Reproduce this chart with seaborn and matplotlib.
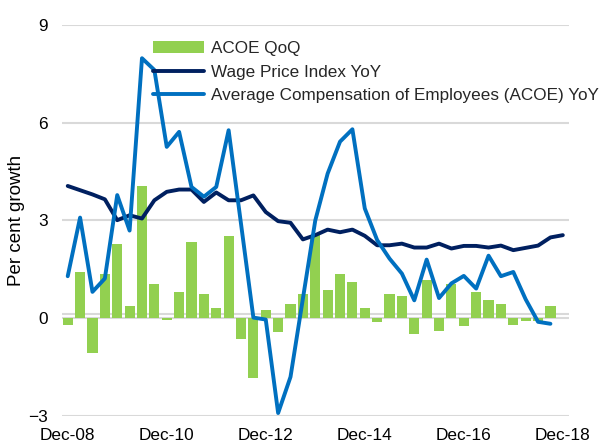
import numpy as np
import pandas as pd
import seaborn as sns
import matplotlib
matplotlib.use("Agg")
import matplotlib.pyplot as plt
from matplotlib.patches import Patch
from matplotlib.lines import Line2D

# Quarterly data, Dec-08 .. Dec-18
quarters = [str(p) for p in pd.period_range("2008Q4", "2018Q4", freq="Q")]

acoe_qoq = [-0.2, 1.42, -1.08, 1.37, 2.27, 0.37, 4.05, 1.04, -0.05, 0.8,
            2.33, 0.74, 0.32, 2.53, -0.65, -1.82, 0.25, -0.42, 0.43, 0.74,
            2.55, 0.86, 1.35, 1.1, 0.31, -0.13, 0.74, 0.68, -0.47, 1.17,
            -0.4, 1.04, -0.24, 0.8, 0.55, 0.43, -0.2, -0.08, -0.1, 0.37, np.nan]

wpi_yoy = [4.06, 3.93, 3.8, 3.65, 3.01, 3.16, 3.06, 3.62, 3.88, 3.95,
           3.95, 3.57, 3.86, 3.62, 3.62, 3.77, 3.26, 2.98, 2.93, 2.42,
           2.55, 2.72, 2.64, 2.72, 2.53, 2.24, 2.24, 2.29, 2.17, 2.17,
           2.29, 2.14, 2.22, 2.22, 2.17, 2.23, 2.09, 2.16, 2.23, 2.48, 2.55]

acoe_yoy = [1.29, 3.09, 0.81, 1.22, 3.78, 2.69, 7.98, 7.62, 5.26, 5.72,
            4.03, 3.73, 4.03, 5.77, 2.9, 0.02, -0.04, -2.91, -1.8, 0.6,
            3.0, 4.44, 5.42, 5.8, 3.37, 2.4, 1.83, 1.37, 0.55, 1.8,
            0.62, 1.07, 1.3, 0.91, 1.92, 1.29, 1.42, 0.58, -0.11, -0.17, np.nan]

xtick_labels = ["Dec-08", "Dec-10", "Dec-12", "Dec-14", "Dec-16", "Dec-18"]
ytick_values = [-3, 0, 3, 6, 9]

df = pd.DataFrame({
    "quarter": quarters,
    "pos": np.arange(len(quarters)),
    "qoq": acoe_qoq,
    "wpi": wpi_yoy,
    "acoe": acoe_yoy,
})

GREEN = "#92D050"
NAVY = "#002060"
BLUE = "#0070C0"
GRID = "#D9D9D9"

sns.set_theme(style="white")
plt.rcParams["font.family"] = ["Liberation Sans", "DejaVu Sans"]

fig, ax = plt.subplots(figsize=(6.05, 4.45), dpi=100)
fig.subplots_adjust(left=0.1017, right=0.9405, top=0.9438, bottom=0.0652)

# gridlines
for v in ytick_values:
    ax.axhline(v, color=GRID, lw=1.5, zorder=0)
ax.axhline(0.13, color=GRID, lw=1.5, zorder=0)

sns.barplot(data=df, x="quarter", y="qoq", order=quarters, color=GREEN,
            saturation=1, width=0.82, errorbar=None, linewidth=0,
            ax=ax, zorder=2)
sns.lineplot(data=df, x="pos", y="wpi", color=NAVY, lw=2.8, ax=ax, zorder=3)
sns.lineplot(data=df, x="pos", y="acoe", color=BLUE, lw=2.8, ax=ax, zorder=4)

ax.set_xlim(-0.5, len(quarters) - 0.5)
ax.set_ylim(-3, 9)
ax.set_yticks(ytick_values)
ax.set_xticks(np.arange(0, len(quarters), 8))
ax.set_xticklabels(xtick_labels)
ax.tick_params(axis="both", length=0, labelsize=12.4, colors="black")
ax.tick_params(axis="y", pad=10)
ax.tick_params(axis="x", pad=9)
ax.set_xlabel("")
ax.set_ylabel("Per cent growth", fontsize=13.5, color="black")
ax.yaxis.set_label_coords(-0.072, 0.5)
for s in ax.spines.values():
    s.set_visible(False)

handles = [
    Patch(facecolor=GREEN, edgecolor="none"),
    Line2D([], [], color=NAVY, lw=2.8),
    Line2D([], [], color=BLUE, lw=2.8),
]
labels = ["ACOE QoQ", "Wage Price Index YoY",
          "Average Compensation of Employees (ACOE) YoY"]
ax.legend(handles, labels, loc="upper left", bbox_to_anchor=(0.18, 0.96),
          frameon=False, fontsize=12.3, borderpad=0, borderaxespad=0,
          handlelength=3.0, handletextpad=0.4, labelspacing=0.52)

fig.savefig("out.png", dpi=100)
